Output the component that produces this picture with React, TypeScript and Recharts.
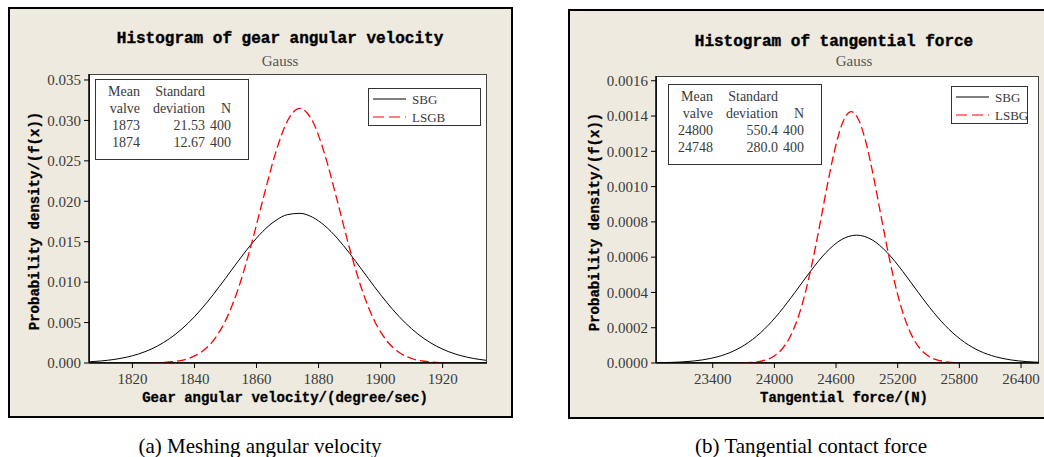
import React from "react";
import { LineChart, Line, XAxis, YAxis } from "recharts";

// (a) gear angular velocity, degree/sec
const angleSbgX = [1806, 1810, 1814, 1818, 1822, 1826, 1830, 1834, 1838, 1842, 1846, 1850, 1854, 1858, 1862, 1866, 1870, 1874, 1878, 1882, 1886, 1890, 1894, 1898, 1902, 1906, 1910, 1914, 1918, 1922, 1926, 1930, 1934];
const angleSbgY = [0.000146, 0.000256, 0.000434, 0.000709, 0.00112, 0.00171, 0.002522, 0.003592, 0.004944, 0.006573, 0.008441, 0.010473, 0.012554, 0.014537, 0.016264, 0.017576, 0.018351, 0.01851, 0.018037, 0.01698, 0.015443, 0.013568, 0.011515, 0.009443, 0.007481, 0.005724, 0.004232, 0.003022, 0.002086, 0.00139, 0.000895, 0.000557, 0.000335];
const angleLsgbX = [1826, 1830, 1834, 1838, 1842, 1846, 1850, 1854, 1858, 1862, 1866, 1870, 1874, 1878, 1882, 1886, 1890, 1894, 1898, 1902, 1906, 1910, 1914, 1918, 1922];
const angleLsgbY = [0.000024, 0.000076, 0.000216, 0.000556, 0.001297, 0.002739, 0.005236, 0.009058, 0.014186, 0.020107, 0.025797, 0.029956, 0.031487, 0.029956, 0.025797, 0.020107, 0.014186, 0.009058, 0.005236, 0.002739, 0.001297, 0.000556, 0.000216, 0.000076, 0.000024];
const angleTicksX = [1820, 1840, 1860, 1880, 1900, 1920];
const angleTicksY = [0, 0.005, 0.01, 0.015, 0.02, 0.025, 0.03, 0.035];
const angleStats = [
  ["1873", "21.53", "400"],
  ["1874", "12.67", "400"],
];

// (b) tangential force, N
const forceSbgX = [22850, 23000, 23150, 23300, 23450, 23600, 23750, 23900, 24050, 24200, 24350, 24500, 24650, 24800, 24950, 25100, 25250, 25400, 25550, 25700, 25850, 26000, 26150, 26300, 26450, 26600];
const forceSbgY = [0.0000014, 0.0000035, 0.0000081, 0.0000177, 0.0000358, 0.0000673, 0.0001175, 0.0001904, 0.0002864, 0.0004001, 0.0005189, 0.0006248, 0.0006984, 0.0007248, 0.0006984, 0.0006248, 0.0005189, 0.0004001, 0.0002864, 0.0001904, 0.0001175, 0.0000673, 0.0000358, 0.0000177, 0.0000081, 0.0000035];
const forceLsbgX = [23698, 23773, 23848, 23923, 23998, 24073, 24148, 24223, 24298, 24373, 24448, 24523, 24598, 24673, 24748, 24823, 24898, 24973, 25048, 25123, 25198, 25273, 25348, 25423, 25498, 25573, 25648, 25723, 25798];
const forceLsbgY = [0.0000013, 0.0000033, 0.0000081, 0.0000186, 0.0000394, 0.0000779, 0.0001434, 0.0002457, 0.0003916, 0.0005811, 0.0008025, 0.0010316, 0.0012343, 0.0013746, 0.0014248, 0.0013746, 0.0012343, 0.0010316, 0.0008025, 0.0005811, 0.0003916, 0.0002457, 0.0001434, 0.0000779, 0.0000394, 0.0000186, 0.0000081, 0.0000033, 0.0000013];
const forceTicksX = [23400, 24000, 24600, 25200, 25800, 26400];
const forceTicksY = [0, 0.0002, 0.0004, 0.0006, 0.0008, 0.001, 0.0012, 0.0014, 0.0016];
const forceStats = [
  ["24800", "550.4", "400"],
  ["24748", "280.0", "400"],
];

const zip = (xs: number[], ys: number[]) => xs.map((x, i) => ({ x, y: ys[i] }));

const BG = "#EEEAE0";
const TEXT = "#3a3a3a";
const SONG = "'Liberation Serif', serif";
const MONO = "'Liberation Mono', monospace";
const Y_AXIS_W = 60;
const X_AXIS_H = 24;

function Txt({ x, y, rotate, style, children }: any) {
  return (
    <div
      style={{
        position: "absolute",
        left: x,
        top: y,
        transform: `translate(-50%, -50%)${rotate ? " rotate(-90deg)" : ""}`,
        whiteSpace: "nowrap",
        ...style,
      }}
    >
      {children}
    </div>
  );
}

function StatBox({ left, top, rows }: any) {
  const cols = [46, 111, 137];
  const lines = [
    ["Mean", "Standard", ""],
    ["valve", "deviation", "N"],
    ...rows,
  ];
  const rowY = [12, 29, 46, 63];
  return (
    <div
      style={{
        position: "absolute",
        left,
        top,
        width: 154,
        height: 81,
        boxSizing: "border-box",
        border: "1.5px solid #333",
        background: "#fff",
      }}
    >
      {lines.map((line, r) =>
        line.map((cell: string, c: number) => (
          <div
            key={`${r}-${c}`}
            style={{
              position: "absolute",
              right: 154 - cols[c],
              top: rowY[r],
              transform: "translateY(-50%)",
              fontFamily: SONG,
              fontSize: 14,
              color: TEXT,
              whiteSpace: "nowrap",
            }}
          >
            {cell}
          </div>
        ))
      )}
    </div>
  );
}

function LegendBox({ left, top, width, names }: any) {
  return (
    <div
      style={{
        position: "absolute",
        left,
        top,
        width,
        height: 38,
        boxSizing: "border-box",
        border: "1.5px solid #333",
        background: "#fff",
      }}
    >
      <svg width={width} height={38} style={{ position: "absolute", left: -1.5, top: -1.5 }}>
        <line x1={5} x2={38} y1={11} y2={11} stroke="#000" strokeWidth={1} />
        <line x1={5} x2={38} y1={29} y2={29} stroke="#ff0000" strokeWidth={1.2} strokeDasharray="11 5" />
        <text x={44} y={15.5} fontFamily="Liberation Serif" fontSize={13} fill={TEXT}>{names[0]}</text>
        <text x={44} y={33.5} fontFamily="Liberation Serif" fontSize={13} fill={TEXT}>{names[1]}</text>
      </svg>
    </div>
  );
}

function Plot({ chartLeft, chartW, plot, xDomain, yDomain, xTicks, yTicks, digits, black, red, names }: any) {
  const h = 420;
  return (
    <>
      <div
        style={{
          position: "absolute",
          left: plot.left,
          top: plot.top,
          width: plot.right - plot.left,
          height: plot.bottom - plot.top,
          boxSizing: "border-box",
          border: "1.5px solid #444",
          background: "#fff",
        }}
      />
      <div style={{ position: "absolute", left: chartLeft, top: 0 }}>
        <LineChart
          width={chartW}
          height={h}
          margin={{
            top: plot.top,
            left: plot.left - chartLeft - Y_AXIS_W,
            right: chartLeft + chartW - plot.right,
            bottom: h - plot.bottom - X_AXIS_H,
          }}
        >
          <XAxis
            type="number"
            dataKey="x"
            domain={xDomain}
            ticks={xTicks}
            allowDataOverflow
            height={X_AXIS_H}
            tickSize={5}
            tickMargin={5}
            interval={0}
            axisLine={{ stroke: "#000", strokeWidth: 1.5 }}
            tickLine={{ stroke: "#000" }}
            tick={{ fill: TEXT, fontSize: 15, fontFamily: "Liberation Serif" }}
          />
          <YAxis
            type="number"
            domain={yDomain}
            ticks={yTicks}
            allowDataOverflow
            width={Y_AXIS_W}
            tickSize={5}
            tickMargin={3}
            interval={0}
            tickFormatter={(v: number) => v.toFixed(digits)}
            axisLine={{ stroke: "#000", strokeWidth: 1.5 }}
            tickLine={{ stroke: "#000" }}
            tick={{ fill: TEXT, fontSize: 15, fontFamily: "Liberation Serif" }}
          />
          <Line
            data={black}
            dataKey="y"
            name={names[0]}
            type="monotone"
            stroke="#000"
            strokeWidth={1}
            dot={false}
            isAnimationActive={false}
          />
          <Line
            data={red}
            dataKey="y"
            name={names[1]}
            type="monotone"
            stroke="#ff0000"
            strokeWidth={1.3}
            strokeDasharray="9 4"
            dot={false}
            isAnimationActive={false}
          />
        </LineChart>
      </div>
    </>
  );
}

const titleStyle = { fontFamily: MONO, fontWeight: 700, fontSize: 16, color: "#000", WebkitTextStroke: "0.4px #000" };
const axisTitleStyle = { fontFamily: MONO, fontWeight: 700, fontSize: 14, color: "#000", WebkitTextStroke: "0.3px #000" };
const subStyle = { fontFamily: SONG, fontSize: 15, color: "#555" };
const captionStyle = { fontFamily: "'Liberation Serif', 'Times New Roman', serif", fontSize: 21, color: "#000" };

export default function App() {
  return (
    <div
      style={{
        position: "absolute",
        left: 0,
        top: 0,
        width: 1044,
        height: 457,
        background: "#fff",
        overflow: "hidden",
      }}
    >
      {/* panel (a) */}
      <div
        style={{
          position: "absolute",
          left: 8,
          top: 7,
          width: 505,
          height: 411,
          boxSizing: "border-box",
          border: "2.5px solid #000",
          background: BG,
        }}
      />
      <Plot
        chartLeft={0}
        chartW={520}
        plot={{ left: 89, top: 74, right: 487, bottom: 363 }}
        xDomain={[1806, 1934.3]}
        yDomain={[0, 0.03574]}
        xTicks={angleTicksX}
        yTicks={angleTicksY}
        digits={3}
        black={zip(angleSbgX, angleSbgY)}
        red={zip(angleLsgbX, angleLsgbY)}
        names={["SBG", "LSGB"]}
      />
      <Txt x={280} y={38.5} style={titleStyle}>Histogram of gear angular velocity</Txt>
      <Txt x={280} y={60.5} style={subStyle}>Gauss</Txt>
      <Txt x={35} y={221} rotate style={axisTitleStyle}>Probability density/(f(x))</Txt>
      <Txt x={285} y={398} style={axisTitleStyle}>Gear angular velocity/(degree/sec)</Txt>
      <StatBox left={95} top={79} rows={angleStats} />
      <LegendBox left={368} top={88} width={113} names={["SBG", "LSGB"]} />
      <Txt x={260} y={446} style={captionStyle}>(a) Meshing angular velocity</Txt>

      {/* panel (b) */}
      <div
        style={{
          position: "absolute",
          left: 568,
          top: 9,
          width: 490,
          height: 410,
          boxSizing: "border-box",
          border: "2.5px solid #000",
          background: BG,
        }}
      />
      <Plot
        chartLeft={540}
        chartW={504}
        plot={{ left: 656, top: 76, right: 1039, bottom: 363 }}
        xDomain={[22848, 26575]}
        yDomain={[0, 0.001627]}
        xTicks={forceTicksX}
        yTicks={forceTicksY}
        digits={4}
        black={zip(forceSbgX, forceSbgY)}
        red={zip(forceLsbgX, forceLsbgY)}
        names={["SBG", "LSBG"]}
      />
      <Txt x={834} y={42} style={titleStyle}>Histogram of tangential force</Txt>
      <Txt x={854} y={60.5} style={subStyle}>Gauss</Txt>
      <Txt x={595} y={222} rotate style={axisTitleStyle}>Probability density/(f(x))</Txt>
      <Txt x={844} y={398} style={axisTitleStyle}>Tangential force/(N)</Txt>
      <StatBox left={668} top={84} rows={forceStats} />
      <LegendBox left={951} top={86} width={77} names={["SBG", "LSBG"]} />
      <Txt x={811} y={446} style={captionStyle}>(b) Tangential contact force</Txt>
    </div>
  );
}
